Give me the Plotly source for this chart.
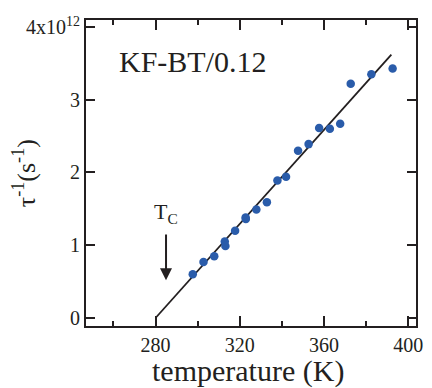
import plotly.graph_objects as go

# data (temperature in K, relaxation rate in s^-1)
temperature = [297.7, 302.8, 307.9, 312.9, 313.2, 317.8, 322.8, 322.9, 327.9, 332.9,
               337.9, 342.0, 347.7, 352.7, 357.7, 362.8, 367.7, 372.7, 382.5, 392.6]
rate = [0.60e12, 0.77e12, 0.85e12, 1.05e12, 0.99e12, 1.20e12, 1.38e12, 1.36e12, 1.49e12, 1.59e12,
        1.89e12, 1.94e12, 2.30e12, 2.39e12, 2.61e12, 2.60e12, 2.67e12, 3.22e12, 3.35e12, 3.43e12]
fit_x = [280, 392]
fit_y = [0.0, 3.62e12]
tc_x = 285
tc_arrow_y = [1.17e12, 0.52e12]
y_tickvals = [0, 1e12, 2e12, 3e12, 4e12]
y_ticktext = ["0", "1", "2", "3", "4x10<sup>12</sup>"]

ink = "#231f20"
font = "Liberation Serif"

fig = go.Figure()
fig.add_trace(go.Scatter(x=fit_x, y=fit_y, mode="lines",
                         line=dict(color=ink, width=1.8), showlegend=False))
fig.add_trace(go.Scatter(x=temperature, y=rate, mode="markers",
                         marker=dict(color="#2a5caa", size=8.5), showlegend=False))

fig.update_layout(
    width=432, height=388,
    margin=dict(l=86, r=9, t=20, b=62),
    paper_bgcolor="white", plot_bgcolor="white",
    font=dict(family=font, color=ink),
    xaxis=dict(range=[247, 403.7], tickmode="linear", tick0=280, dtick=40,
               ticks="inside", ticklen=10, tickwidth=2, tickcolor=ink,
               minor=dict(ticks="inside", ticklen=5, tickwidth=2, tickcolor=ink, dtick=20, tick0=260),
               showline=True, linewidth=2, linecolor=ink, mirror="ticks",
               showgrid=False, zeroline=False,
               tickfont=dict(size=20, family=font, color=ink)),
    yaxis=dict(range=[-0.11e12, 4.096e12], tickmode="array",
               tickvals=y_tickvals, ticktext=y_ticktext,
               ticks="inside", ticklen=9, tickwidth=2, tickcolor=ink,
               showline=True, linewidth=2, linecolor=ink, mirror="ticks",
               showgrid=False, zeroline=False,
               tickfont=dict(size=20, family=font, color=ink)),
    annotations=[
        dict(text="KF-BT/0.12", x=(195 - 86) / 337, y=(326 - 62) / 306, xref="paper", yref="paper",
             xanchor="center", yanchor="middle", showarrow=False,
             font=dict(size=30, family=font, color=ink)),
        dict(text="temperature (K)", x=(251 - 86) / 337, y=-(371 - 326) / 306, xref="paper", yref="paper",
             xanchor="center", yanchor="middle", showarrow=False,
             font=dict(size=30, family=font, color=ink)),
        dict(text="τ<sup>-1</sup>(s<sup>-1</sup>)", x=-(86 - 23) / 337, y=0.5, xref="paper", yref="paper",
             textangle=-90, xanchor="center", yanchor="middle", showarrow=False,
             font=dict(size=26, family=font, color=ink)),
        dict(text="T<sub>C</sub>", x=tc_x, y=1.45e12, xref="x", yref="y", showarrow=False,
             font=dict(size=22, family=font, color=ink)),
        dict(text="", x=tc_x, y=tc_arrow_y[1], ax=tc_x, ay=tc_arrow_y[0],
             xref="x", yref="y", axref="x", ayref="y", showarrow=True,
             arrowhead=2, arrowsize=1.2, arrowwidth=2, arrowcolor=ink),
    ],
)

fig.write_html("out.html")
